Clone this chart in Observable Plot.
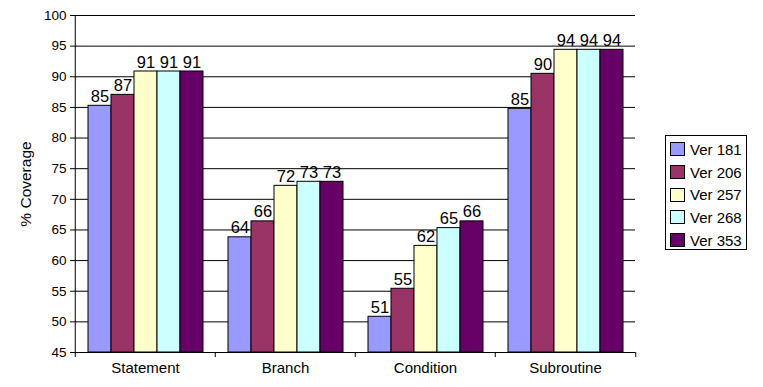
<!DOCTYPE html>
<html>
<head>
<meta charset="utf-8">
<script src="https://cdn.jsdelivr.net/npm/d3@7"></script>
<script src="https://cdn.jsdelivr.net/npm/@observablehq/plot@0.6"></script>
<style>
  body { margin: 0; background: #fff; font-family: "Liberation Sans", Arial, sans-serif; }
  #wrap { position: relative; width: 763px; height: 387px; }
  #wrap svg { position: absolute; left: 0; top: 0; }
  #ytitle { position: absolute; left: 26px; top: 184px; transform: translate(-50%, -50%) rotate(-90deg);
            font-size: 15.5px; white-space: nowrap; color: #000; }
  #legend { position: absolute; left: 665px; top: 135px; width: 82px; height: 115px;
            border: 1px solid #000; box-sizing: border-box; background: #fff; }
  .row { position: absolute; left: 4px; height: 22.7px; display: flex; align-items: center; font-size: 15px; color: #000; }
  .sw { width: 15px; height: 14px; border: 1px solid #000; box-sizing: border-box; margin-right: 5px; }
</style>
</head>
<body>
<div id="wrap">
  <div id="ytitle">% Coverage</div>
  <div id="legend"></div>
</div>
<script>
const categories = ["Statement", "Branch", "Condition", "Subroutine"];
const versions = ["Ver 181", "Ver 206", "Ver 257", "Ver 268", "Ver 353"];
const ver181 = [85.26, 63.8, 50.83, 84.77];
const ver206 = [87.05, 66.4, 55.4, 90.48];
const ver257 = [90.86, 72.2, 62.4, 94.4];
const ver268 = [90.86, 72.86, 65.3, 94.4];
const ver353 = [90.86, 72.86, 66.4, 94.4];
const colors = ["#9999ff", "#993366", "#ffffcc", "#ccffff", "#660066"];
const yTicks = [45, 50, 55, 60, 65, 70, 75, 80, 85, 90, 95, 100];
const yMin = 45, yMax = 100;

const series = [ver181, ver206, ver257, ver268, ver353];
const table = [];
categories.forEach((c, ci) => versions.forEach((v, vi) => table.push({category: c, version: v, value: series[vi][ci]})));

const W = 763, H = 387, mL = 74, mR = 127, mT = 15, mB = 35;
const facetW = (W - mL - mR) / categories.length;

const chart = Plot.plot({
  width: W, height: H,
  marginLeft: mL, marginRight: mR, marginTop: mT, marginBottom: mB,
  style: {fontFamily: '"Liberation Sans", Arial, sans-serif', fontSize: "13px", color: "#000", background: "transparent"},
  fx: {domain: categories, padding: 0, label: null},
  x: {domain: versions, paddingInner: 0, paddingOuter: 0.5, axis: null},
  y: {domain: [yMin, yMax], label: null},
  color: {domain: versions, range: colors},
  marks: [
    Plot.gridY(yTicks, {stroke: "#000", strokeOpacity: 1}),
    Plot.barY(table, {fx: "category", x: "version", y1: yMin, y2: "value", fill: "version", stroke: "#000", strokeWidth: 1}),
    Plot.text(table, {fx: "category", x: "version", y: "value", text: d => d3.format(".0f")(d.value),
      lineAnchor: "bottom", dy: -4, fontSize: 16.5, fill: "#000"}),
    Plot.ruleY([yMin], {stroke: "#000"}),
    Plot.ruleX([0], {x: null, y1: yMin, y2: yMin, insetBottom: -5, dx: -facetW / 2, stroke: "#000"}),
    Plot.ruleX([categories[categories.length - 1]], {fx: d => d, x: null, y1: yMin, y2: yMin, insetBottom: -5, dx: facetW / 2, stroke: "#000"}),
    Plot.ruleX([categories[0]], {fx: d => d, x: null, y1: yMin, y2: yMax, dx: -facetW / 2, stroke: "#000"}),
    Plot.axisY({ticks: yTicks, tickSize: 5, tickPadding: 4, fontSize: 13.5, label: null, stroke: "#000"}),
    Plot.axisFx({anchor: "bottom", tickSize: 0, tickPadding: 10, fontSize: 15, label: null})
  ]
});
document.getElementById("wrap").prepend(chart);

const legend = document.getElementById("legend");
versions.forEach((v, i) => {
  const row = document.createElement("div");
  row.className = "row";
  row.style.top = (2 + i * 22.7) + "px";
  const sw = document.createElement("div");
  sw.className = "sw";
  sw.style.background = colors[i];
  const t = document.createElement("span");
  t.textContent = v;
  row.appendChild(sw);
  row.appendChild(t);
  legend.appendChild(row);
});
</script>
</body>
</html>
